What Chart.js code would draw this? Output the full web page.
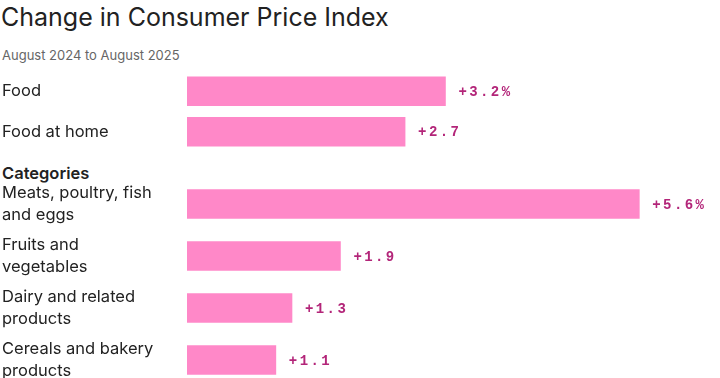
<!DOCTYPE html>
<html lang="en">
<head>
    <meta charset="UTF-8">
    <title>Change in Consumer Price Index</title>
    <script src="https://cdn.jsdelivr.net/npm/chart.js"></script>
    <style>
        html, body { margin: 0; padding: 0; background: #fff; overflow: hidden; }
        body { width: 720px; height: 378px; position: relative; font-family: Inter, "Noto Sans", sans-serif; color: #222; }
        .title { position: absolute; left: 1px; top: 2px; font-size: 25px; font-weight: 400; }
        .sub { position: absolute; left: 2px; top: 47px; font-size: 13px; color: #666; }
        .cat { position: absolute; left: 2px; top: 163px; font-size: 16.5px; font-weight: 600; }
        canvas { position: absolute; left: 0; }
        #top { top: 71px; }
        #bottom { top: 178px; }
    </style>
</head>
<body>
    <div class="title">Change in Consumer Price Index</div>
    <div class="sub">August 2024 to August 2025</div>
    <div class="cat">Categories</div>
    <canvas id="top" width="720" height="81"></canvas>
    <canvas id="bottom" width="720" height="208"></canvas>

    <script>
        // headline rows
        const topLabels = ['Food', 'Food at home'];
        const topValues = [3.2, 2.7];
        const topText = ['+3.2%', '+2.7'];

        // categories
        const catLabels = [['Meats, poultry, fish', 'and eggs'], ['Fruits and', 'vegetables'], ['Dairy and related', 'products'], ['Cereals and bakery', 'products']];
        const catValues = [5.6, 1.9, 1.3, 1.1];
        const catText = ['+5.6%', '+1.9', '+1.3', '+1.1'];

        const barColor = '#ff88c8';
        const textColor = '#b32579';

        const valueLabels = {
            id: 'valueLabels',
            afterDatasetsDraw(chart) {
                const ctx = chart.ctx;
                const texts = chart.options.plugins.valueLabels.texts;
                ctx.save();
                ctx.font = 'bold 14px "Liberation Mono", "DejaVu Sans Mono", monospace';
                ctx.letterSpacing = '2.4px';
                ctx.fillStyle = textColor;
                ctx.textBaseline = 'middle';
                ctx.textAlign = 'left';
                chart.getDatasetMeta(0).data.forEach((bar, i) => {
                    ctx.fillText(texts[i], bar.x + 13, bar.y + 1);
                });
                ctx.restore();
            }
        };

        function makeChart(id, labels, values, texts) {
            return new Chart(document.getElementById(id), {
                type: 'bar',
                data: {
                    labels: labels,
                    datasets: [{
                        data: values,
                        backgroundColor: barColor,
                        borderWidth: 0,
                        barThickness: 29
                    }]
                },
                options: {
                    indexAxis: 'y',
                    responsive: false,
                    animation: false,
                    layout: { padding: { left: 2, right: 8, top: 0, bottom: 0 } },
                    plugins: {
                        legend: { display: false },
                        tooltip: { enabled: false },
                        valueLabels: { texts: texts }
                    },
                    scales: {
                        x: { display: false, min: 0, max: 6.5 },
                        y: {
                            grid: { display: false },
                            border: { display: false },
                            afterFit(scale) {
                                scale.width = 185;
                                scale.paddingTop = 0;
                                scale.paddingBottom = 0;
                            },
                            ticks: {
                                crossAlign: 'far',
                                padding: 0,
                                color: '#222',
                                font: { family: 'Inter, "Noto Sans", sans-serif', size: 16.5, lineHeight: 1.28 }
                            }
                        }
                    }
                },
                plugins: [valueLabels]
            });
        }

        makeChart('top', topLabels, topValues, topText);
        makeChart('bottom', catLabels, catValues, catText);
    </script>
</body>
</html>
